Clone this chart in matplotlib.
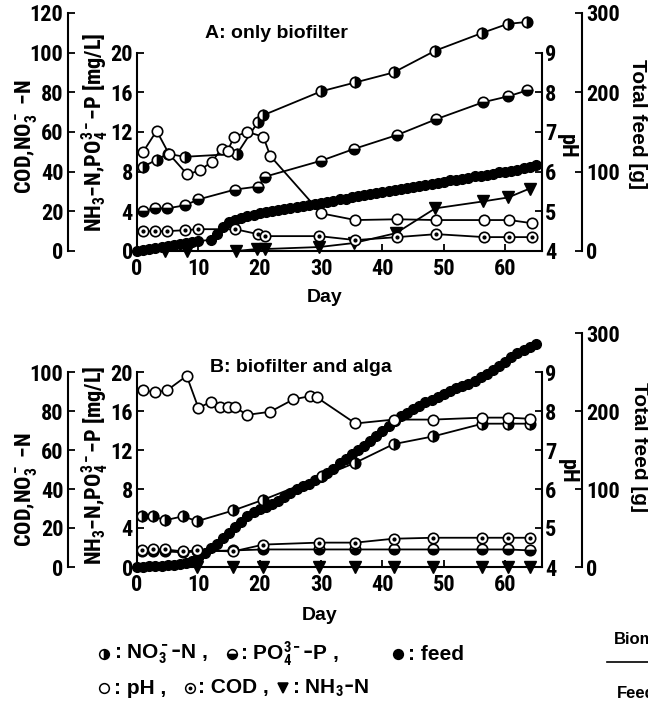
import matplotlib
matplotlib.use("Agg")
import matplotlib.pyplot as plt
from matplotlib import font_manager

# pick a condensed bold face if one is installed, the scan uses a narrow Helvetica
_names = {f.name for f in font_manager.fontManager.ttflist}
NARROW_FACE = next((n for n in ['Liberation Sans Narrow', 'DejaVu Sans Condensed',
                                'Roboto Condensed', 'Open Sans Condensed']
                    if n in _names), 'Liberation Sans')
NARROW = [NARROW_FACE, 'Liberation Sans', 'DejaVu Sans']
WIDE = ['Liberation Sans', 'DejaVu Sans']

plt.rcParams['font.family'] = NARROW
plt.rcParams['font.weight'] = 'bold'
plt.rcParams['mathtext.fontset'] = 'custom'
plt.rcParams['mathtext.rm'] = NARROW_FACE + ':bold'
plt.rcParams['mathtext.it'] = NARROW_FACE + ':bold'
plt.rcParams['mathtext.bf'] = NARROW_FACE + ':bold'

# ---- Panel A: only biofilter ----
a_ph_day = [1, 3.2, 5.2, 8.2, 10.2, 12.2, 13.8, 14.8, 15.8, 18, 20.6, 21.7, 30, 35.6, 42.4, 48.8, 56.6, 60.7, 64.4]
a_ph = [6.5, 7.03, 6.45, 5.93, 6.03, 6.25, 6.58, 6.53, 6.88, 7.0, 6.88, 6.4, 4.95, 4.78, 4.8, 4.78, 4.78, 4.78, 4.7]

a_no3_day = [1, 3.2, 5, 7.8, 16.3, 19.7, 20.6, 30, 35.6, 41.8, 48.6, 56.3, 60.4, 63.6]
a_no3 = [42.5, 46, 49, 47.5, 49, 65, 68.5, 80.5, 85, 90, 101, 110, 114.5, 115.5]

a_po4_day = [1, 3, 4.9, 7.8, 10, 16, 19.7, 20.9, 30, 35.4, 42.4, 48.8, 56.4, 60.5, 63.6]
a_po4 = [4.0, 4.3, 4.3, 4.6, 5.2, 6.2, 6.5, 7.5, 9.1, 10.3, 11.7, 13.3, 15.0, 15.6, 16.2]

a_cod_day = [1, 3, 4.9, 7.8, 10, 16, 19.7, 20.9, 29.7, 35.6, 42.4, 48.8, 56.6, 60.7, 64.4]
a_cod = [10, 10, 10, 10.5, 11, 11, 8.5, 7.5, 7.5, 5.5, 7, 8.5, 7, 7, 7]

a_nh3_day = [4.6, 8.1, 16.2, 19.5, 20.9, 29.7, 35.3, 42.2, 48.6, 56.4, 60.5, 64]
a_nh3 = [0, 0, 0, 0.2, 0.2, 0.4, 0.8, 1.8, 4.3, 5.0, 5.4, 6.3]

a_feed_day = list(range(0, 11)) + list(range(12, 66))
a_feed = [0, 1.5, 3, 4, 5, 6.5, 7.5, 9, 10, 11, 12.5,
          14, 22, 30, 36, 39.5, 42, 44, 46, 47.5, 49, 50.5, 52, 53, 54.5, 55.5, 57, 58, 59,
          60.5, 62, 63.5, 65, 66, 67.5, 69, 70, 71.5, 73, 74, 75.5, 77, 78, 79.5, 81, 82,
          83.5, 85, 86, 87.5, 89, 90, 91, 92.5, 94, 95, 96, 97.5, 99, 100, 101, 102.5, 104,
          106, 108]

# ---- Panel B: biofilter and alga ----
b_ph_day = [1, 3, 4.9, 8.1, 10, 12, 13.5, 14.8, 16, 17.9, 21.7, 25.5, 28.2, 29.3, 35.6, 41.8, 48.3, 56.3, 60.4, 64.1]
b_ph = [8.53, 8.48, 8.53, 8.9, 8.08, 8.23, 8.1, 8.1, 8.1, 7.9, 7.98, 8.3, 8.38, 8.35, 7.68, 7.78, 7.78, 7.83, 7.83, 7.8]

b_no3_day = [0.8, 2.6, 4.6, 7.5, 9.8, 15.7, 20.6, 30.2, 35.6, 41.8, 48.3, 56.3, 60.4, 64.1]
b_no3 = [26, 26, 24, 26, 23.5, 29, 34.5, 46.5, 53.5, 63, 67, 73.5, 73.5, 73.5]

b_po4_day = [0.8, 2.6, 4.6, 7.5, 9.8, 15.7, 20.6, 29.6, 35.6, 41.8, 48.3, 56.3, 60.4, 64.1]
b_po4 = [1.6, 1.6, 1.6, 1.5, 1.6, 1.7, 1.8, 1.8, 1.8, 1.8, 1.8, 1.8, 1.8, 1.7]

b_cod_day = [0.8, 2.6, 4.6, 7.5, 9.8, 15.7, 20.6, 29.6, 35.6, 41.8, 48.3, 56.3, 60.4, 64.1]
b_cod = [8.5, 9, 9, 8, 8.5, 8, 11.5, 12.5, 12.5, 14.5, 15, 15, 15, 15]

b_nh3_day = [9.8, 15.7, 20.6, 29.6, 35.6, 41.8, 48.3, 56.3, 60.4, 64.1]
b_nh3 = [0, 0, 0, 0, 0, 0, 0, 0, 0, 0]

b_feed_day = list(range(0, 66))
b_feed = [0, 0.5, 1, 1, 1.5, 2, 3, 4, 5.5, 7.5, 12, 18, 24, 30, 37, 44, 51, 58, 65, 70,
          74, 77, 81, 85, 90, 95, 100, 104, 107, 111, 116, 121, 126, 133, 139, 145, 150,
          155, 161, 168, 175, 181, 187, 193, 198, 203, 207, 211, 214, 218, 222, 226, 229,
          232, 235, 239, 243, 247, 252, 258, 263, 269, 274, 278, 282, 286]

W, H = 648, 705
fig = plt.figure(figsize=(W / 100, H / 100), dpi=100)
fig.patch.set_facecolor('white')

TICK_SIZE = 16 if NARROW_FACE != 'Liberation Sans' else 14.5


def rect(left, top, right, bottom):
    return [left / W, 1 - bottom / H, (right - left) / W, (bottom - top) / H]


def ftext(x, y, s, **kw):
    fig.text(x / W, 1 - y / H, s, **kw)


def style_axis(a, lw=1.5):
    a.tick_params(direction='in', length=5, width=1.3, labelsize=TICK_SIZE)
    for sp in a.spines.values():
        sp.set_linewidth(lw)


def draw_panel(box, cod_top, d):
    ax_feed = fig.add_axes(box)
    ax = fig.add_axes(box)
    ax_cod = fig.add_axes(box)
    ax_ph = fig.add_axes(box)
    for i, a in enumerate([ax_feed, ax, ax_cod, ax_ph]):
        a.set_zorder(i + 1)
        a.patch.set_visible(False)
        a.set_xlim(0, 66)
        for s in ['top', 'right', 'left', 'bottom']:
            a.spines[s].set_visible(False)
        style_axis(a)
        if a is not ax:
            a.set_xticks([])

    # inner axis (NH3-N, PO4-P), and day axis
    ax.set_ylim(0, 24)
    ax.spines['left'].set_visible(True)
    ax.spines['bottom'].set_visible(True)
    ax.spines['left'].set_bounds(0, 20)
    ax.set_yticks([0, 4, 8, 12, 16, 20])
    ax.set_xticks(range(0, 70, 10))
    ax.tick_params(axis='y', pad=3)
    ax.tick_params(axis='x', pad=5)

    # outer left axis (COD, NO3-N)
    ax_cod.set_ylim(0, 120)
    ax_cod.spines['left'].set_visible(True)
    ax_cod.spines['left'].set_position(('outward', 50))
    ax_cod.spines['left'].set_bounds(0, cod_top)
    ax_cod.set_yticks(range(0, cod_top + 1, 20))
    ax_cod.tick_params(axis='y', pad=3)

    # pH axis
    ax_ph.set_ylim(4, 10)
    ax_ph.yaxis.tick_right()
    ax_ph.spines['right'].set_visible(True)
    ax_ph.spines['right'].set_bounds(4, 9)
    ax_ph.set_yticks([4, 5, 6, 7, 8, 9])
    ax_ph.tick_params(axis='y', pad=2)

    # total feed axis
    ax_feed.set_ylim(0, 300)
    ax_feed.yaxis.tick_right()
    ax_feed.spines['right'].set_visible(True)
    ax_feed.spines['right'].set_position(('outward', 29))
    ax_feed.set_yticks([0, 100, 200, 300])
    ax_feed.tick_params(axis='y', pad=3)

    lw, ms, mew = 1.3, 7.5, 1.2
    ax_feed.plot(d['feed_day'], d['feed'], '-o', color='black', lw=lw, ms=7,
                 mec='black', mfc='black', clip_on=False)
    ax.plot(d['po4_day'], d['po4'], '-o', color='black', lw=lw, ms=ms, mew=mew,
            fillstyle='bottom', mfc='black', mfcalt='white', clip_on=False)
    ax.plot(d['nh3_day'], d['nh3'], '-v', color='black', lw=lw, ms=ms + 0.5,
            mfc='black', clip_on=False)
    ax_cod.plot(d['cod_day'], d['cod'], '-o', color='black', lw=lw, ms=ms, mew=mew,
                mfc='white', clip_on=False)
    ax_cod.plot(d['cod_day'], d['cod'], 'o', color='black', ms=2, clip_on=False)
    ax_cod.plot(d['no3_day'], d['no3'], '-o', color='black', lw=lw, ms=ms, mew=mew,
                fillstyle='right', mfc='black', mfcalt='white', clip_on=False)
    ax_ph.plot(d['ph_day'], d['ph'], '-o', color='black', lw=lw, ms=ms, mew=mew,
               mfc='white', clip_on=False)
    return ax


panel_a = dict(ph_day=a_ph_day, ph=a_ph, no3_day=a_no3_day, no3=a_no3,
               po4_day=a_po4_day, po4=a_po4, cod_day=a_cod_day, cod=a_cod,
               nh3_day=a_nh3_day, nh3=a_nh3, feed_day=a_feed_day, feed=a_feed)
panel_b = dict(ph_day=b_ph_day, ph=b_ph, no3_day=b_no3_day, no3=b_no3,
               po4_day=b_po4_day, po4=b_po4, cod_day=b_cod_day, cod=b_cod,
               nh3_day=b_nh3_day, nh3=b_nh3, feed_day=b_feed_day, feed=b_feed)

draw_panel(rect(137, 13, 542, 251), 120, panel_a)
draw_panel(rect(137, 333, 542, 567), 100, panel_b)

cod_lab = r'COD,NO$_3^-$ $-$N'
nh3_lab = r'NH$_3$$-$N,PO$_4^{3-}$$-$P [mg/L]'
LAB = 16 if NARROW_FACE != 'Liberation Sans' else 14

# panel A texts
ftext(26, 137, cod_lab, rotation=90, ha='center', va='center', fontsize=LAB)
ftext(95, 132, nh3_lab, rotation=90, ha='center', va='center', fontsize=LAB)
ftext(567, 146, 'pH', rotation=-90, ha='center', va='center', fontsize=16)
ftext(638, 124, 'Total feed [g]', rotation=-90, ha='center', va='center', fontsize=15, family=WIDE)
ftext(276, 33, 'A: only biofilter', ha='center', va='center', fontsize=14, family=WIDE)
ftext(325, 297, 'Day', ha='center', va='center', fontsize=14, family=WIDE)

# panel B texts
ftext(26, 490, cod_lab, rotation=90, ha='center', va='center', fontsize=LAB)
ftext(95, 465, nh3_lab, rotation=90, ha='center', va='center', fontsize=LAB)
ftext(568, 471, 'pH', rotation=-90, ha='center', va='center', fontsize=16)
ftext(640, 447, 'Total feed [g]', rotation=-90, ha='center', va='center', fontsize=15, family=WIDE)
ftext(301, 368, 'B: biofilter and alga', ha='center', va='center', fontsize=14, family=WIDE)
ftext(320, 615, 'Day', ha='center', va='center', fontsize=14, family=WIDE)

# legend drawn in figure pixel space
lax = fig.add_axes([0, 0, 1, 1], zorder=0)
lax.set_xlim(0, W)
lax.set_ylim(H, 0)
lax.axis('off')
lax.patch.set_visible(False)
mk = dict(color='black', ms=7, mew=1.1, ls='none')
lax.plot([104], [654], 'o', fillstyle='right', mfc='black', mfcalt='white', **mk)
lax.plot([232], [654], 'o', fillstyle='bottom', mfc='black', mfcalt='white', **mk)
lax.plot([398], [654], 'o', mfc='black', **mk)
lax.plot([104], [688], 'o', mfc='white', **mk)
lax.plot([190], [688], 'o', mfc='white', **mk)
lax.plot([190], [688], 'o', color='black', ms=1.8, ls='none')
lax.plot([283], [688], 'v', mfc='black', **mk)
leg = dict(fontsize=15, va='center', ha='left', family=WIDE)
lax.text(114, 654, r': NO$_3^-$$-$N ,', **leg)
lax.text(240, 654, r': PO$_4^{3-}$$-$P ,', **leg)
lax.text(408, 654, ': feed', **leg)
lax.text(114, 688, ': pH ,', **leg)
lax.text(198, 688, ': COD ,', **leg)
lax.text(292, 688, r': NH$_3$$-$N', **leg)

# fragments of the neighbouring table at the right edge
lax.text(614, 639, 'Biom', fontsize=12, va='center', ha='left', family=WIDE)
lax.plot([607, 660], [662, 662], color='black', lw=1.2, clip_on=False)
lax.text(617, 694, 'Feed', fontsize=12, va='center', ha='left', family=WIDE)

fig.savefig('out.png', dpi=100)
